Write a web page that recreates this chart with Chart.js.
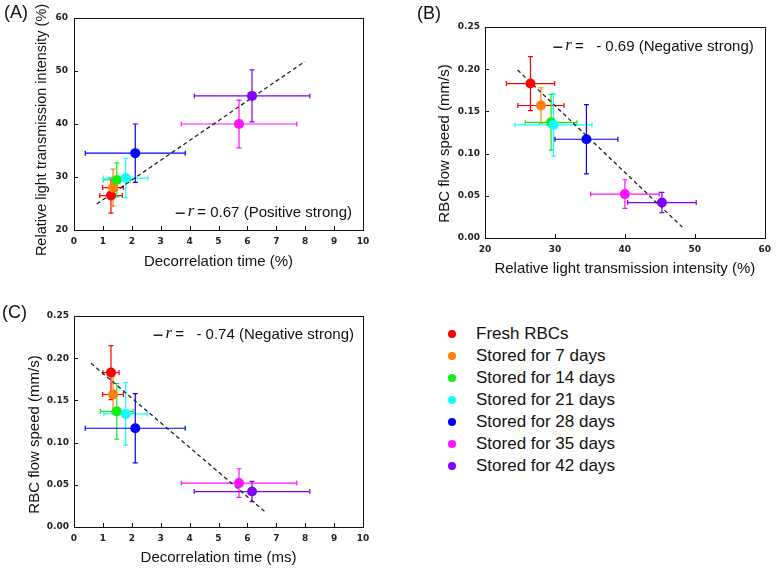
<!DOCTYPE html>
<html>
<head>
<meta charset="utf-8">
<script src="https://cdn.jsdelivr.net/npm/chart.js@4.4.1/dist/chart.umd.min.js"></script>
<style>
  body { margin: 0; background: #fff; }
  #wrap { position: relative; width: 777px; height: 569px; overflow: hidden; background: #fff;
          font-family: "Liberation Sans", Arial, sans-serif; color: #111; }
  #wrap canvas { position: absolute; }
  .tag { position: absolute; font-size: 18px; line-height: 20px; }
  .leg-dot { position: absolute; width: 8px; height: 8px; border-radius: 50%; }
  .leg-txt { position: absolute; font-size: 17px; line-height: 22px; white-space: nowrap; }
</style>
</head>
<body>
<div id="wrap">
  <canvas id="chartA" width="385" height="280" style="left:0;top:0"></canvas>
  <canvas id="chartB" width="387" height="280" style="left:390px;top:0"></canvas>
  <canvas id="chartC" width="385" height="284" style="left:0;top:285px"></canvas>
  <div class="tag" style="left:4px;top:2px">(A)</div>
  <div class="tag" style="left:417px;top:3px">(B)</div>
  <div class="tag" style="left:2px;top:302px">(C)</div>
  <div id="legend"></div>
</div>
<script>
// groups and colours
const groups = ['Fresh RBCs', 'Stored for 7 days', 'Stored for 14 days', 'Stored for 21 days',
  'Stored for 28 days', 'Stored for 35 days', 'Stored for 42 days'];
const colors = ['#ff0000', '#ff7f0a', '#11ee11', '#11ffff', '#0000ff', '#ff11ff', '#7f00ff'];
// horizontal bar of the 7-day group is drawn red in the original
const xBarColors = ['#ff0000', '#ff0000', '#11ee11', '#11ffff', '#0000ff', '#ff11ff', '#7f00ff'];

// means
const decorTime = [1.28, 1.35, 1.48, 1.79, 2.12, 5.71, 6.16];        // ms
const lightIntensity = [26.5, 28.0, 29.45, 29.8, 34.5, 40.0, 45.3];  // %
const flowSpeed = [0.183, 0.157, 0.137, 0.134, 0.117, 0.052, 0.042]; // mm/s

// error bars as drawn in each panel
const decorErrA = [0.39, 0.36, 0.47, 0.77, 1.73, 2.0, 2.0];
const lightErrA = [3.3, 3.5, 3.2, 3.7, 5.5, 4.5, 4.9];
const lightErrB = [3.45, 3.3, 3.7, 5.5, 4.5, 4.9, 4.9];
const decorErrC = [0.28, 0.36, 0.57, 0.76, 1.73, 2.0, 2.0];
const speedErr = [0.032, 0.021, 0.033, 0.037, 0.041, 0.017, 0.012];

// dashed regression lines (end points)
const trendAX = [0.79, 7.99], trendAY = [24.9, 51.8];
const trendBX = [24.66, 48.2], trendBY = [0.199, 0.013];
const trendCX = [0.59, 6.63], trendCY = [0.194, 0.0174];

const pts = (xs, ys) => xs.map((x, i) => ({ x: x, y: ys[i] }));

// error bars under the points
const errorBars = {
  id: 'errorBars',
  beforeDatasetsDraw(chart, args, opts) {
    const ctx = chart.ctx, sx = chart.scales.x, sy = chart.scales.y;
    const cap = 2.5;
    ctx.save();
    ctx.lineWidth = 1.2;
    chart.data.datasets[0].data.forEach((p, i) => {
      const px = sx.getPixelForValue(p.x), py = sy.getPixelForValue(p.y);
      const x1 = sx.getPixelForValue(p.x - opts.xErr[i]), x2 = sx.getPixelForValue(p.x + opts.xErr[i]);
      const y1 = sy.getPixelForValue(p.y - opts.yErr[i]), y2 = sy.getPixelForValue(p.y + opts.yErr[i]);
      ctx.strokeStyle = xBarColors[i];
      ctx.beginPath();
      ctx.moveTo(x1, py); ctx.lineTo(x2, py);
      ctx.moveTo(x1, py - cap); ctx.lineTo(x1, py + cap);
      ctx.moveTo(x2, py - cap); ctx.lineTo(x2, py + cap);
      ctx.stroke();
      ctx.strokeStyle = colors[i];
      ctx.beginPath();
      ctx.moveTo(px, y1); ctx.lineTo(px, y2);
      ctx.moveTo(px - cap, y1); ctx.lineTo(px + cap, y1);
      ctx.moveTo(px - cap, y2); ctx.lineTo(px + cap, y2);
      ctx.stroke();
    });
    ctx.restore();
  }
};

// box round the plot with short inward ticks on bottom and left
const frame = {
  id: 'frame',
  afterDraw(chart) {
    const ctx = chart.ctx, a = chart.chartArea;
    ctx.save();
    ctx.strokeStyle = '#111';
    ctx.lineWidth = 1;
    ctx.strokeRect(Math.round(a.left) + 0.5, Math.round(a.top) + 0.5,
      Math.round(a.right - a.left), Math.round(a.bottom - a.top));
    ctx.beginPath();
    chart.scales.x.ticks.forEach(t => {
      const x = Math.round(chart.scales.x.getPixelForValue(t.value)) + 0.5;
      if (x > a.left + 2 && x < a.right - 2) { ctx.moveTo(x, a.bottom); ctx.lineTo(x, a.bottom - 4); }
    });
    chart.scales.y.ticks.forEach(t => {
      const y = Math.round(chart.scales.y.getPixelForValue(t.value)) + 0.5;
      if (y > a.top + 2 && y < a.bottom - 2) { ctx.moveTo(a.left, y); ctx.lineTo(a.left + 4, y); }
    });
    ctx.stroke();
    ctx.restore();
  }
};

// y title, placed a bit lower than the axis centre like the original
const yTitle = {
  id: 'yTitle',
  afterDraw(chart, args, opts) {
    const s = chart.scales.y, ctx = chart.ctx;
    ctx.save();
    ctx.translate(s.left + opts.x, (s.top + s.bottom) / 2 + opts.dy);
    ctx.rotate(-Math.PI / 2);
    ctx.font = opts.size + 'px "Liberation Sans", Arial';
    ctx.textAlign = 'center';
    ctx.textBaseline = 'middle';
    ctx.fillStyle = '#111';
    ctx.fillText(opts.text, 0, 0);
    ctx.restore();
  }
};

// "— r = value" note inside the plot
const rNote = {
  id: 'rNote',
  afterDraw(chart, args, opts) {
    const ctx = chart.ctx, a = chart.chartArea;
    const y = a.top + opts.y;
    ctx.save();
    ctx.fillStyle = '#111';
    ctx.textBaseline = 'middle';
    ctx.font = '15px "Liberation Sans", Arial';
    const wText = ctx.measureText(opts.text).width;
    ctx.font = 'italic 17px "Liberation Serif", serif';
    const wR = ctx.measureText('r').width;
    let x = a.right - opts.right - wText - 3 - wR - 3 - 9;
    ctx.fillRect(x, y - 0.5, 9, 1.4);
    x += 12;
    ctx.fillText('r', x, y - 1);
    x += wR + 3;
    ctx.font = '15px "Liberation Sans", Arial';
    ctx.fillText(opts.text, x, y);
    ctx.restore();
  }
};

const tickFont = { family: '"DejaVu Sans"', size: 9, weight: 'bold' };
const titleFont = { family: '"Liberation Sans", Arial', size: 15 };

function makeChart(id, cfg) {
  const xs = cfg.x, ys = cfg.y;
  return new Chart(document.getElementById(id), {
    type: 'scatter',
    data: {
      datasets: [{
        data: pts(xs, ys),
        backgroundColor: colors,
        borderColor: colors,
        borderWidth: 0,
        pointRadius: 5,
        pointHoverRadius: 5
      }, {
        data: pts(cfg.trendX, cfg.trendY),
        showLine: true,
        borderColor: '#222',
        borderWidth: 1.3,
        borderDash: [4, 3],
        pointRadius: 0
      }]
    },
    options: {
      responsive: false,
      animation: false,
      events: [],
      layout: { padding: cfg.padding },
      plugins: {
        legend: { display: false },
        tooltip: { enabled: false },
        errorBars: { xErr: cfg.xErr, yErr: cfg.yErr },
        yTitle: cfg.yTitle,
        rNote: cfg.note
      },
      scales: {
        x: {
          type: 'linear', min: cfg.xMin, max: cfg.xMax,
          grid: { display: false, drawTicks: false }, border: { display: false },
          ticks: { stepSize: cfg.xStep, font: tickFont, color: '#222', padding: 6, maxRotation: 0 },
          title: { display: true, text: cfg.xTitle, font: titleFont, color: '#111',
                   padding: { top: 0, bottom: cfg.xTitlePad } },
          afterFit: s => { s.height = cfg.xHeight; }
        },
        y: {
          type: 'linear', min: cfg.yMin, max: cfg.yMax,
          grid: { display: false, drawTicks: false }, border: { display: false },
          ticks: { stepSize: cfg.yStep, font: tickFont, color: '#222', padding: cfg.yTickPad,
                   callback: cfg.yFmt },
          afterFit: s => { s.width = cfg.yWidth; }
        }
      }
    },
    plugins: [errorBars, frame, yTitle, rNote]
  });
}

const speedFmt = v => v.toFixed(2);

makeChart('chartA', {
  x: decorTime, y: lightIntensity, xErr: decorErrA, yErr: lightErrA,
  trendX: trendAX, trendY: trendAY,
  xMin: 0, xMax: 10, xStep: 1, yMin: 20, yMax: 60, yStep: 10,
  xTitle: 'Decorrelation time (%)',
  yTitle: { text: 'Relative light transmission intensity (%)', x: 42, dy: 6, size: 14.5 },
  padding: { left: 0, top: 18, right: 22, bottom: 0 },
  xHeight: 50, yWidth: 74, xTitlePad: 9, yTickPad: 6,
  note: { text: '= 0.67 (Positive strong)', right: 11, y: 195 }
});

makeChart('chartB', {
  x: lightIntensity, y: flowSpeed, xErr: lightErrB, yErr: speedErr,
  trendX: trendBX, trendY: trendBY,
  xMin: 20, xMax: 60, xStep: 10, yMin: 0, yMax: 0.25, yStep: 0.05, yFmt: speedFmt,
  xTitle: 'Relative light transmission intensity (%)',
  yTitle: { text: 'RBC flow speed (mm/s)', x: 55, dy: 11, size: 15 },
  padding: { left: 0, top: 27, right: 6, bottom: 0 },
  xHeight: 42, yWidth: 95, xTitlePad: 2.5, yTickPad: 5,
  note: { text: '=   - 0.69 (Negative strong)', right: 11, y: 20 }
});

makeChart('chartC', {
  x: decorTime, y: flowSpeed, xErr: decorErrC, yErr: speedErr,
  trendX: trendCX, trendY: trendCY,
  xMin: 0, xMax: 10, xStep: 1, yMin: 0, yMax: 0.25, yStep: 0.05, yFmt: speedFmt,
  xTitle: 'Decorrelation time (ms)',
  yTitle: { text: 'RBC flow speed (mm/s)', x: 34.5, dy: 13, size: 15 },
  padding: { left: 0, top: 31, right: 22, bottom: 0 },
  xHeight: 42, yWidth: 74, xTitlePad: 2, yTickPad: 5,
  note: { text: '=   - 0.74 (Negative strong)', right: 9, y: 19 }
});

// legend
const legend = document.getElementById('legend');
groups.forEach((g, i) => {
  const cy = 334 + 22 * i;
  const dot = document.createElement('div');
  dot.className = 'leg-dot';
  dot.style.left = '448px';
  dot.style.top = (cy - 4) + 'px';
  dot.style.background = colors[i];
  legend.appendChild(dot);
  const txt = document.createElement('div');
  txt.className = 'leg-txt';
  txt.style.left = '476px';
  txt.style.top = (cy - 11) + 'px';
  txt.textContent = g;
  legend.appendChild(txt);
});
</script>
</body>
</html>
